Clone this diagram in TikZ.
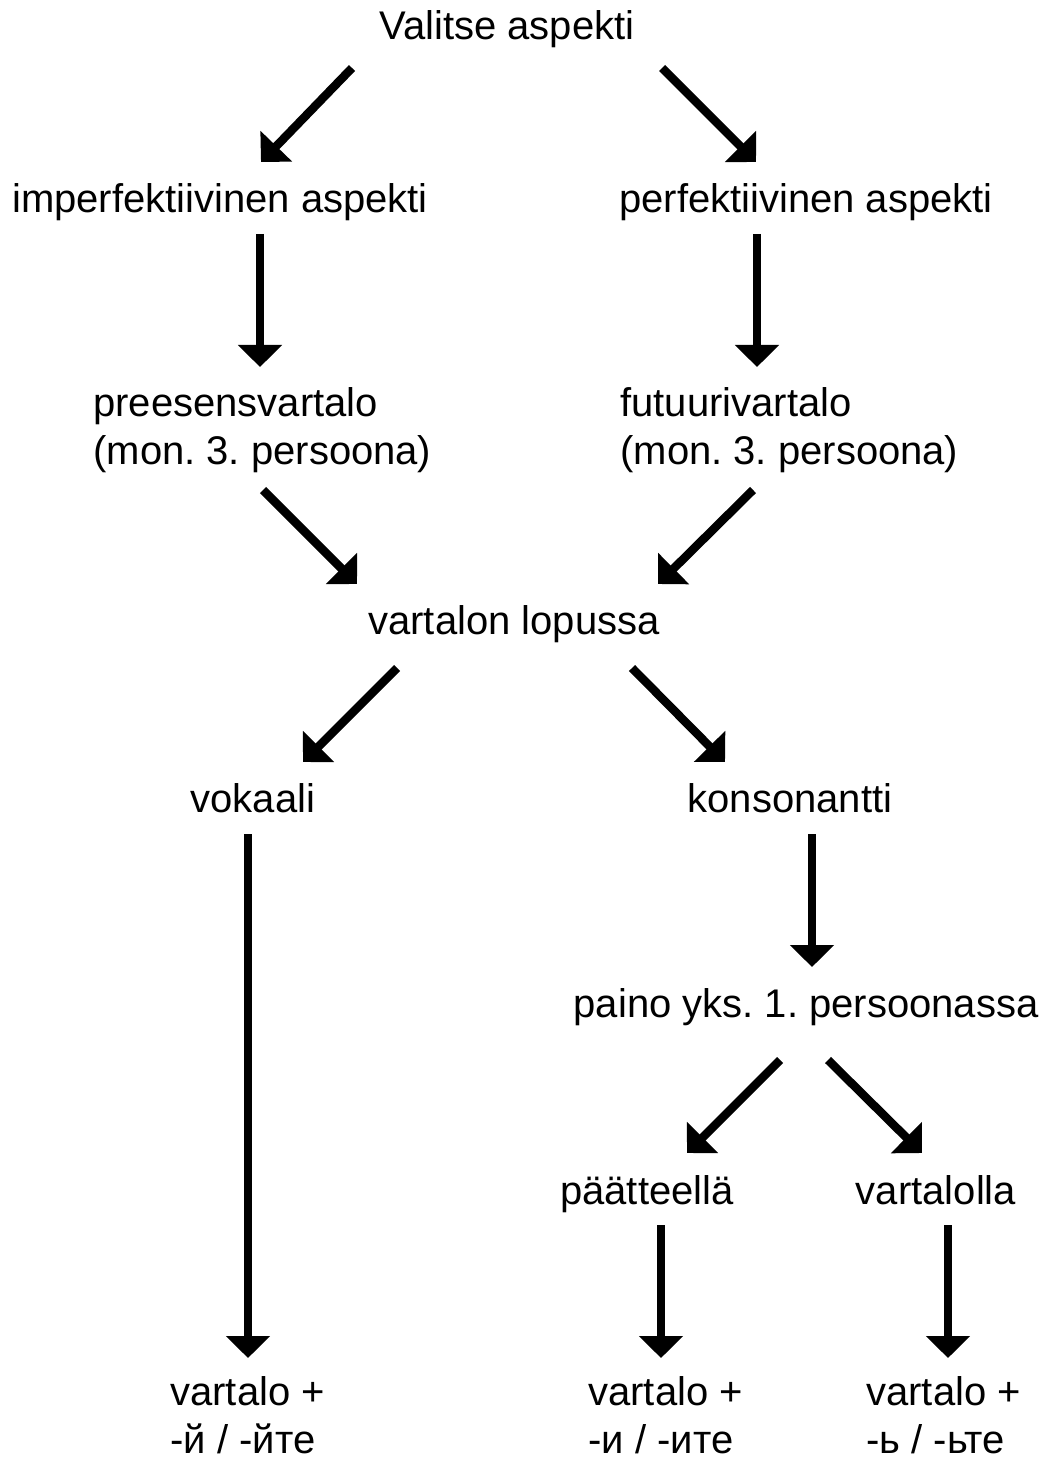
\documentclass[tikz,border=0pt]{standalone}
\usepackage{fontspec}
\setmainfont{Liberation Sans}
\usetikzlibrary{arrows.meta}
\frenchspacing

\tikzset{
  lbl/.style={inner sep=0pt, font=\fontsize{20}{24}\selectfont},
  arr/.style={line width=4.25pt, -{Triangle[width=21.5pt,length=11pt]}}
}

\begin{document}
\begin{tikzpicture}[x=0.5pt, y=-0.5pt]
		\useasboundingbox (0,0) rectangle (1043,1460);
		% labels (two-line ones sit on the baseline of their last line)
		\node[lbl, anchor=base] (top) at (507,40) {Valitse aspekti};
		\node[lbl, anchor=base] (imp) at (220,213) {imperfektiivinen aspekti};
		\node[lbl, anchor=base] (perf) at (806,213) {perfektiivinen aspekti};
		\node[lbl, anchor=base west, align=left] (pre) at (93,464) {preesensvartalo\\(mon. 3. persoona)};
		\node[lbl, anchor=base west, align=left] (fut) at (620,464) {futuurivartalo\\(mon. 3. persoona)};
		\node[lbl, anchor=base] (lop) at (514,634) {vartalon lopussa};
		\node[lbl, anchor=base] (vok) at (253,812) {vokaali};
		\node[lbl, anchor=base] (kons) at (790,812) {konsonantti};
		\node[lbl, anchor=base] (paino) at (806,1017) {paino yks. 1. persoonassa};
		\node[lbl, anchor=base] (paat) at (647,1204) {päätteellä};
		\node[lbl, anchor=base] (varl) at (936,1204) {vartalolla};
		\node[lbl, anchor=base west, align=left] (ej) at (170,1453) {vartalo +\\-й / -йте};
		\node[lbl, anchor=base west, align=left] (ei) at (588,1453) {vartalo +\\-и / -ите};
		\node[lbl, anchor=base west, align=left] (eb) at (866,1453) {vartalo +\\-ь / -ьте};

		% arrows
		\draw[arr] ([shift={(-155,28)}]top.base) -- ([shift={(41,-51)}]imp.base);
		\draw[arr] ([shift={(155,28)}]top.base) -- ([shift={(-50,-51)}]perf.base);
		\draw[arr] ([shift={(40,21)}]imp.base) -- ([shift={(167,-97)}]pre.base west);
		\draw[arr] ([shift={(-49,21)}]perf.base) -- ([shift={(137,-97)}]fut.base west);
		\draw[arr] ([shift={(170,26)}]pre.base west) -- ([shift={(-157,-50)}]lop.base);
		\draw[arr] ([shift={(133,26)}]fut.base west) -- ([shift={(144,-50)}]lop.base);
		\draw[arr] ([shift={(-117,34)}]lop.base) -- ([shift={(50,-50)}]vok.base);
		\draw[arr] ([shift={(118,34)}]lop.base) -- ([shift={(-65,-50)}]kons.base);
		\draw[arr] ([shift={(-5,22)}]vok.base) -- ([shift={(78,-95)}]ej.base west);
		\draw[arr] ([shift={(22,22)}]kons.base) -- ([shift={(6,-50)}]paino.base);
		\draw[arr] ([shift={(-26,43)}]paino.base) -- ([shift={(40,-51)}]paat.base);
		\draw[arr] ([shift={(22,43)}]paino.base) -- ([shift={(-14,-51)}]varl.base);
		\draw[arr] ([shift={(14,21)}]paat.base) -- ([shift={(73,-95)}]ei.base west);
		\draw[arr] ([shift={(12,21)}]varl.base) -- ([shift={(82,-95)}]eb.base west);
	\end{tikzpicture}
\end{document}
